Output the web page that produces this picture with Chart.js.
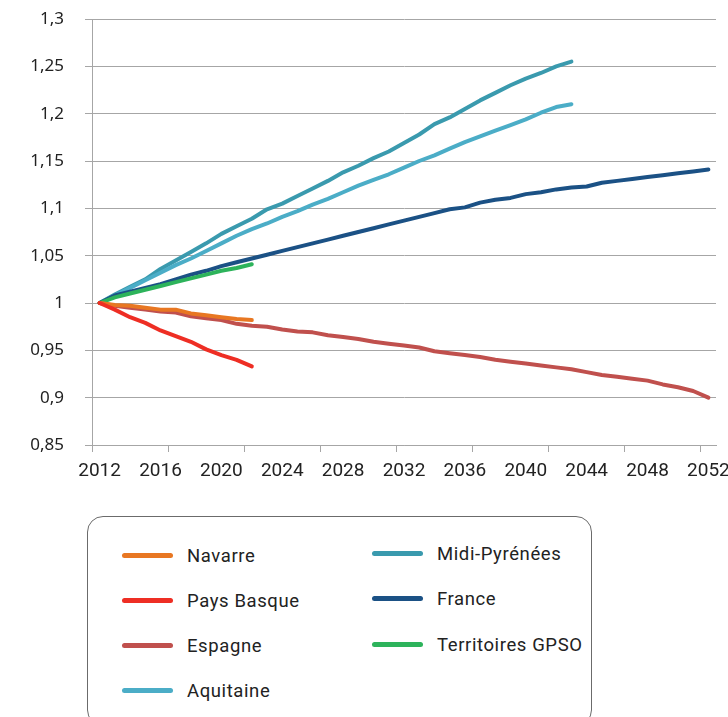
<!DOCTYPE html>
<html>
<head>
<meta charset="utf-8">
<script src="https://cdn.jsdelivr.net/npm/chart.js@4"></script>
<style>
  body { margin: 0; background: #fff; }
  #wrap { position: relative; width: 728px; height: 717px; overflow: hidden; }
  #myChart { position: absolute; left: 0; top: 0; }
  #legend {
    position: absolute; left: 87px; top: 516px; width: 505px; height: 210px;
    border: 1px solid #6b6b6b; border-radius: 16px; box-sizing: border-box;
  }
  .item { position: absolute; height: 24px; font-family: Roboto, "Noto Sans", sans-serif; font-size: 18.5px; letter-spacing: 0.6px; color: #222; }
  .item span.swatch { position: absolute; left: 0; top: 9px; width: 51px; height: 5px; border-radius: 3px; }
  .item span.txt { position: absolute; left: 65px; top: 0; white-space: nowrap; line-height: 24px; }
</style>
</head>
<body>
<div id="wrap">
  <canvas id="myChart" width="728" height="500"></canvas>
  <div id="legend"></div>
</div>
<script>
//years on the x axis
const years = [];
for (let y = 2012; y <= 2052; y++) years.push(String(y));

//series values
const navarre = [1, 0.998, 0.997, 0.995, 0.993, 0.993, 0.989, 0.987, 0.985, 0.983, 0.982];
const paysBasque = [1, 0.993, 0.985, 0.979, 0.971, 0.965, 0.959, 0.951, 0.945, 0.940, 0.933];
const espagne = [1, 0.997, 0.995, 0.993, 0.991, 0.990, 0.986, 0.984, 0.982, 0.978,
  0.976, 0.975, 0.972, 0.970, 0.969, 0.966, 0.964, 0.962, 0.959, 0.957,
  0.955, 0.953, 0.949, 0.947, 0.945, 0.943, 0.940, 0.938, 0.936, 0.934,
  0.932, 0.930, 0.927, 0.924, 0.922, 0.920, 0.918, 0.914, 0.911, 0.907, 0.900];
const aquitaine = [1, 1.008, 1.016, 1.024, 1.032, 1.040, 1.047, 1.055, 1.063, 1.071,
  1.078, 1.084, 1.091, 1.097, 1.104, 1.110, 1.117, 1.124, 1.130, 1.136,
  1.143, 1.150, 1.156, 1.163, 1.170, 1.176, 1.182, 1.188, 1.194, 1.201, 1.207, 1.210];
const midiPyrenees = [1, 1.009, 1.017, 1.025, 1.036, 1.045, 1.054, 1.063, 1.073, 1.081,
  1.089, 1.099, 1.105, 1.113, 1.121, 1.129, 1.138, 1.145, 1.153, 1.160,
  1.169, 1.178, 1.189, 1.196, 1.205, 1.214, 1.222, 1.230, 1.237, 1.243, 1.250, 1.255];
const france = [1, 1.008, 1.012, 1.016, 1.020, 1.025, 1.030, 1.034, 1.039, 1.043,
  1.047, 1.051, 1.055, 1.059, 1.063, 1.067, 1.071, 1.075, 1.079, 1.083,
  1.087, 1.091, 1.095, 1.099, 1.101, 1.106, 1.109, 1.111, 1.115, 1.117,
  1.120, 1.122, 1.123, 1.127, 1.129, 1.131, 1.133, 1.135, 1.137, 1.139, 1.141];
const territoiresGPSO = [1, 1.006, 1.010, 1.014, 1.018, 1.022, 1.026, 1.030, 1.034, 1.037, 1.041];

const yTicks = [0.85, 0.9, 0.95, 1, 1.05, 1.1, 1.15, 1.2, 1.25, 1.3];

const COLORS = {
  navarre: '#E87722',
  paysBasque: '#EE2E24',
  espagne: '#C0504D',
  aquitaine: '#4BADC7',
  midi: '#3A9AAE',
  france: '#1B5185',
  gpso: '#2DB35B'
};

function line(label, values, color, col, row) {
  return {
    label: label,
    data: values,
    borderColor: color,
    backgroundColor: color,
    borderWidth: 4,
    pointRadius: 0,
    tension: 0,
    borderCapStyle: 'round',
    borderJoinStyle: 'round',
    legendCol: col,
    legendRow: row
  };
}

const data = {
  labels: years,
  datasets: [
    line('Pays Basque', paysBasque, COLORS.paysBasque, 0, 1),
    line('Navarre', navarre, COLORS.navarre, 0, 0),
    line('Espagne', espagne, COLORS.espagne, 0, 2),
    line('Territoires GPSO', territoiresGPSO, COLORS.gpso, 1, 2),
    line('France', france, COLORS.france, 1, 1),
    line('Aquitaine', aquitaine, COLORS.aquitaine, 0, 3),
    line('Midi-Pyrénées', midiPyrenees, COLORS.midi, 1, 0)
  ]
};

const gridGrey = '#A6A6A6';

const config = {
  type: 'line',
  data: data,
  options: {
    responsive: false,
    animation: false,
    layout: { padding: { left: 0, top: 19, right: 12, bottom: 0 } },
    plugins: {
      legend: { display: false },
      tooltip: { enabled: false }
    },
    scales: {
      x: {
        type: 'category',
        offset: true,
        afterFit: function (s) { s.height = 55; s.paddingLeft = 0; s.paddingRight = 0; },
        grid: {
          offset: true,
          drawOnChartArea: false,
          tickLength: 7,
          color: function (ctx) { return ctx.index % 5 == 0 && ctx.index < 41 ? gridGrey : 'rgba(0,0,0,0)'; }
        },
        border: { color: gridGrey },
        ticks: {
          autoSkip: false,
          maxRotation: 0,
          padding: 8,
          color: '#222',
          font: { family: 'Roboto', size: 19 },
          callback: function (val, idx) { return idx % 4 == 0 ? years[idx] : ''; }
        }
      },
      y: {
        min: 0.85,
        max: 1.3,
        afterFit: function (s) { s.width = 92; s.paddingTop = 0; s.paddingBottom = 0; },
        afterBuildTicks: function (s) { s.ticks = yTicks.map(function (v) { return { value: v }; }); },
        grid: { color: gridGrey, tickLength: 7 },
        border: { color: gridGrey },
        ticks: {
          padding: 21,
          color: '#222',
          font: { family: '"Noto Sans"', size: 17 },
          callback: function (v) { return String(Number(v.toFixed(2))).replace('.', ','); }
        }
      }
    }
  }
};

const myChart = new Chart(document.getElementById('myChart'), config);

//legend in two columns, built from the datasets
const legendBox = document.getElementById('legend');
const colX = [34, 284];
const rowY = [[27, 72, 117, 162], [25, 70, 116]];
myChart.data.datasets.forEach(function (ds) {
  let item = document.createElement('div');
  item.className = 'item';
  item.style.left = colX[ds.legendCol] + 'px';
  item.style.top = rowY[ds.legendCol][ds.legendRow] + 'px';
  item.innerHTML = '<span class="swatch" style="background:' + ds.borderColor + '"></span><span class="txt"></span>';
  item.querySelector('.txt').textContent = ds.label;
  legendBox.appendChild(item);
});
</script>
</body>
</html>
